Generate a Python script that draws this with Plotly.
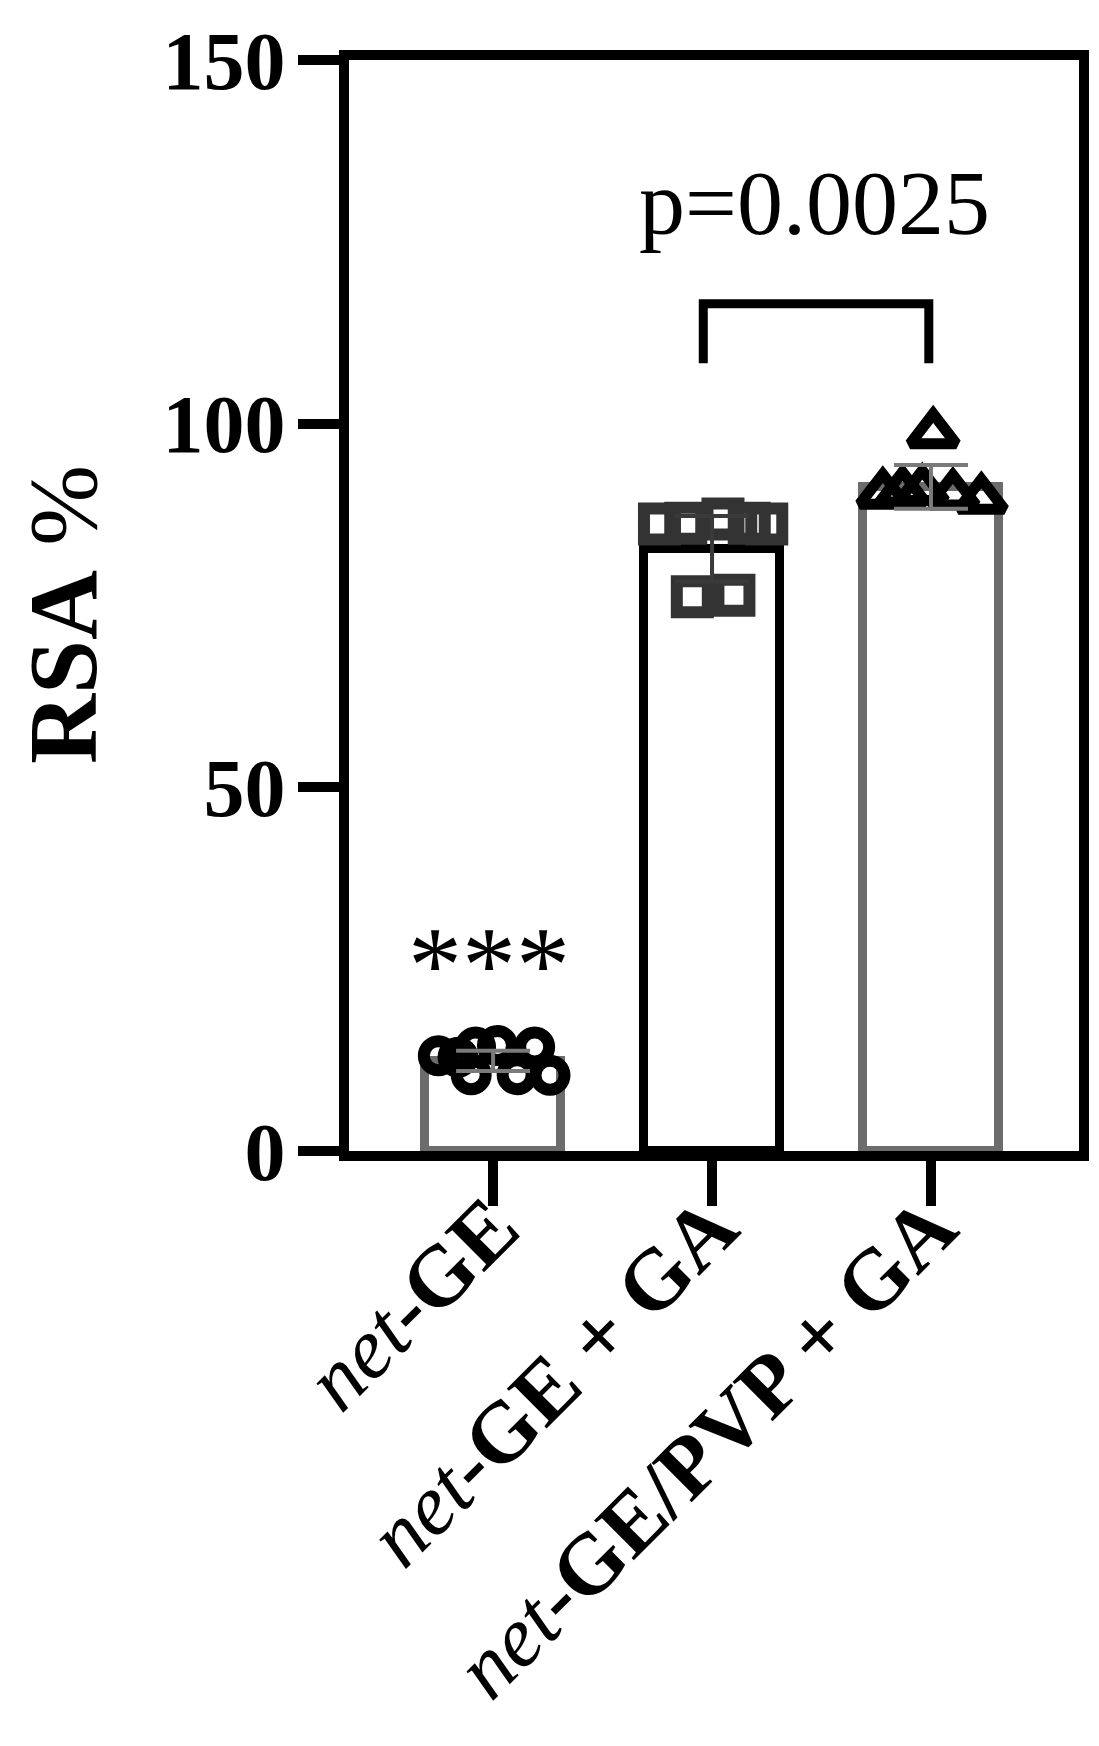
import plotly.graph_objects as go

# ---- data ----
categories = [0, 1, 2]
tick_labels = ["<i>net</i><b>-GE</b>",
               "<i>net</i><b>-GE + GA</b>",
               "<i>net</i><b>-GE/PVP + GA</b>"]
bar_means = [12.4, 82.8, 91.3]
bar_sd = [1.4, 4.5, 3.0]
bar_line_colors = ["#6c6c6c", "#000000", "#6c6c6c"]
err_colors = ["#7a7a7a", "#3a3a3a", "#7a7a7a"]

# individual points (x offset from category centre, value)
g1_dx = [-0.25, -0.16, -0.08, 0.02, 0.11, 0.19, 0.26]
g1_y = [13.1, 12.9, 14.3, 14.5, 10.5, 14.3, 10.4]
g1_dx_low = [-0.10]
g1_y_low = [10.5]

g2_dx = [-0.24, -0.12, 0.05, 0.17, 0.25, -0.09, 0.10]
g2_y = [86.2, 86.3, 86.9, 86.3, 86.2, 76.2, 76.4]

g3_dx = [-0.22, -0.13, -0.04, 0.10, 0.23, 0.01]
g3_y = [90.3, 90.6, 90.8, 90.2, 89.6, 98.6]

y_ticks = [0, 50, 100, 150]
p_text = "p=0.0025"
sig_text = "***"
bracket_x = [0.96, 1.99]
bracket_y = [108.3, 116.5]

SERIF = "Liberation Serif"

fig = go.Figure()

fig.add_trace(go.Bar(
    x=categories, y=bar_means, width=0.62,
    marker=dict(color="white", line=dict(color=bar_line_colors, width=9)),
    showlegend=False, hoverinfo="skip"))

fig.add_trace(go.Scatter(
    x=[categories[0] + d for d in g1_dx + g1_dx_low], y=g1_y + g1_y_low,
    mode="markers",
    marker=dict(symbol="circle-open", size=29, color="black",
                line=dict(color="black", width=12)),
    showlegend=False, hoverinfo="skip"))

fig.add_trace(go.Scatter(
    x=[categories[1] + d for d in g2_dx], y=g2_y,
    mode="markers",
    marker=dict(symbol="square-open", size=31, color="#333333",
                line=dict(color="#333333", width=12)),
    showlegend=False, hoverinfo="skip"))

fig.add_trace(go.Scatter(
    x=[categories[2] + d for d in g3_dx], y=g3_y,
    mode="markers",
    marker=dict(symbol="triangle-up-open", size=40, color="black",
                line=dict(color="black", width=11)),
    showlegend=False, hoverinfo="skip"))

# error bars drawn on top of the points
for i in range(3):
    fig.add_trace(go.Scatter(
        x=[categories[i]], y=[bar_means[i]], mode="markers",
        marker=dict(size=1, opacity=0),
        error_y=dict(type="data", array=[bar_sd[i]], visible=True,
                     color=err_colors[i], thickness=4, width=37),
        showlegend=False, hoverinfo="skip"))

# significance bracket
fig.add_shape(type="path",
              path=(f"M {bracket_x[0]},{bracket_y[0]} L {bracket_x[0]},{bracket_y[1]} "
                    f"L {bracket_x[1]},{bracket_y[1]} L {bracket_x[1]},{bracket_y[0]}"),
              xref="x", yref="y", line=dict(color="black", width=9))

fig.add_annotation(x=1.47, y=130.3, xref="x", yref="y", text=p_text,
                   showarrow=False, font=dict(family=SERIF, size=92, color="black"),
                   xanchor="center", yanchor="middle")

fig.add_annotation(x=-0.02, y=25.6, xref="x", yref="y", text=sig_text,
                   showarrow=False, font=dict(family=SERIF, size=108, color="black"),
                   xanchor="center", yanchor="middle")

fig.add_annotation(x=-0.392, y=0.492, xref="paper", yref="paper",
                   text="<b>RSA</b> %", textangle=-90, showarrow=False,
                   font=dict(family=SERIF, size=97, color="black"),
                   xanchor="center", yanchor="middle")

fig.update_layout(
    width=1099, height=1746,
    margin=dict(l=341, r=28, t=52, b=603),
    paper_bgcolor="white", plot_bgcolor="white",
    bargap=0,
    xaxis=dict(range=[-0.658, 2.676], tickmode="array", tickvals=categories,
               ticktext=tick_labels, tickangle=-45,
               ticks="outside", ticklen=45, tickwidth=10, tickcolor="black",
               showline=True, linewidth=10, linecolor="black", mirror=True,
               showgrid=False, zeroline=False, automargin=False,
               ticklabelstandoff=-64,
               tickfont=dict(family=SERIF, size=86, color="black")),
    yaxis=dict(range=[0, 150], tickmode="array", tickvals=y_ticks,
               ticks="outside", ticklen=41, tickwidth=10, tickcolor="black",
               showline=True, linewidth=10, linecolor="black", mirror=True,
               showgrid=False, zeroline=False, automargin=False,
               ticklabelstandoff=-4,
               tickfont=dict(family=SERIF, size=82, color="black", weight="bold")),
)

fig.write_html("out.html")
